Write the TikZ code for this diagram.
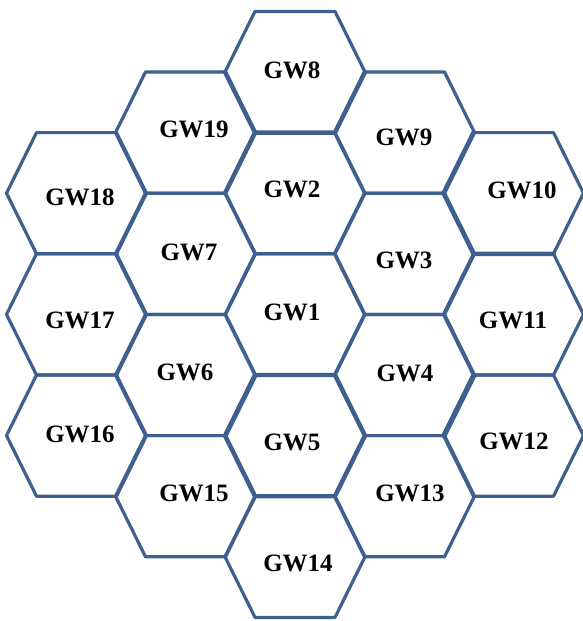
\documentclass[tikz,border=0pt]{standalone}
\usepackage{fontspec}
\setmainfont{Liberation Serif}
\definecolor{hexblue}{RGB}{62,96,142}
\tikzset{
  hexa/.style={draw=hexblue, line width=3.2pt, line join=round},
  thk/.style={draw=hexblue, line width=4.4pt, line join=round, line cap=round},
  lbl/.style={font=\fontsize{25}{25}\selectfont\bfseries, inner sep=0pt, text=black}
}
\begin{document}
\begin{tikzpicture}[x=1pt,y=-1pt]
\useasboundingbox (0,0) rectangle (583,621);
% centres
\coordinate (c8) at (295,72);
\coordinate (c2) at (295,193.2);
\coordinate (c1) at (295,314.4);
\coordinate (c5) at (295,435.6);
\coordinate (c14) at (295,556.8);
\coordinate (c19) at (185.5,132.6);
\coordinate (c7) at (185.5,253.8);
\coordinate (c6) at (185.5,375);
\coordinate (c15) at (185.5,496.2);
\coordinate (c9) at (404.5,132.6);
\coordinate (c3) at (404.5,253.8);
\coordinate (c4) at (404.5,375);
\coordinate (c13) at (404.5,496.2);
\coordinate (c18) at (76.5,193.2);
\coordinate (c17) at (76.5,314.4);
\coordinate (c16) at (76.5,435.6);
\coordinate (c10) at (513.5,193.2);
\coordinate (c11) at (513.5,314.4);
\coordinate (c12) at (513.5,435.6);
% hexagons
\foreach \c in {c8,c2,c1,c5,c14,c19,c7,c6,c15,c9,c3,c4,c13,c18,c17,c16,c10,c11,c12}{
  \draw[hexa] (\c) ++(-70,0) -- ++(30,-60.6) -- ++(80,0) -- ++(30,60.6) -- ++(-30,60.6) -- ++(-80,0) -- cycle;
}
% heavier shared edges
\draw[thk] (c8) ++(-70,0) -- ++(30,60.6) -- ++(80,0) -- ++(30,-60.6);
\draw[thk] (c2) ++(-70,0) -- ++(30,-60.6);
\draw[thk] (c5) ++(-70,0) -- ++(30,-60.6) -- ++(80,0) -- ++(30,60.6) -- ++(-30,60.6) -- ++(-80,0) -- cycle;
\draw[thk] (c10) ++(-40,-60.6) -- ++(-30,60.6) -- ++(30,60.6) -- ++(80,0);
\draw[thk] (c12) ++(-70,0) -- ++(30,-60.6);
\draw[thk] (c6) ++(70,0) -- ++(-30,60.6);
\draw[thk] (c4) ++(70,0) -- ++(-30,60.6);
% labels
\node[lbl] (gw8) at (292,70) {GW8};
\node[lbl] (gw19) at (194,129) {GW19};
\node[lbl] (gw9) at (404,137) {GW9};
\node[lbl] (gw18) at (80,197) {GW18};
\node[lbl] (gw2) at (292,189) {GW2};
\node[lbl] (gw10) at (522,190) {GW10};
\node[lbl] (gw7) at (189,252) {GW7};
\node[lbl] (gw3) at (404,260) {GW3};
\node[lbl] (gw17) at (80,320) {GW17};
\node[lbl] (gw1) at (292,312) {GW1};
\node[lbl] (gw11) at (513,320) {GW11};
\node[lbl] (gw6) at (185,372) {GW6};
\node[lbl] (gw4) at (405,373) {GW4};
\node[lbl] (gw16) at (80,434) {GW16};
\node[lbl] (gw5) at (292,442) {GW5};
\node[lbl] (gw12) at (514,441) {GW12};
\node[lbl] (gw15) at (194,493) {GW15};
\node[lbl] (gw13) at (410,493) {GW13};
\node[lbl] (gw14) at (298,563) {GW14};
\end{tikzpicture}
\end{document}
